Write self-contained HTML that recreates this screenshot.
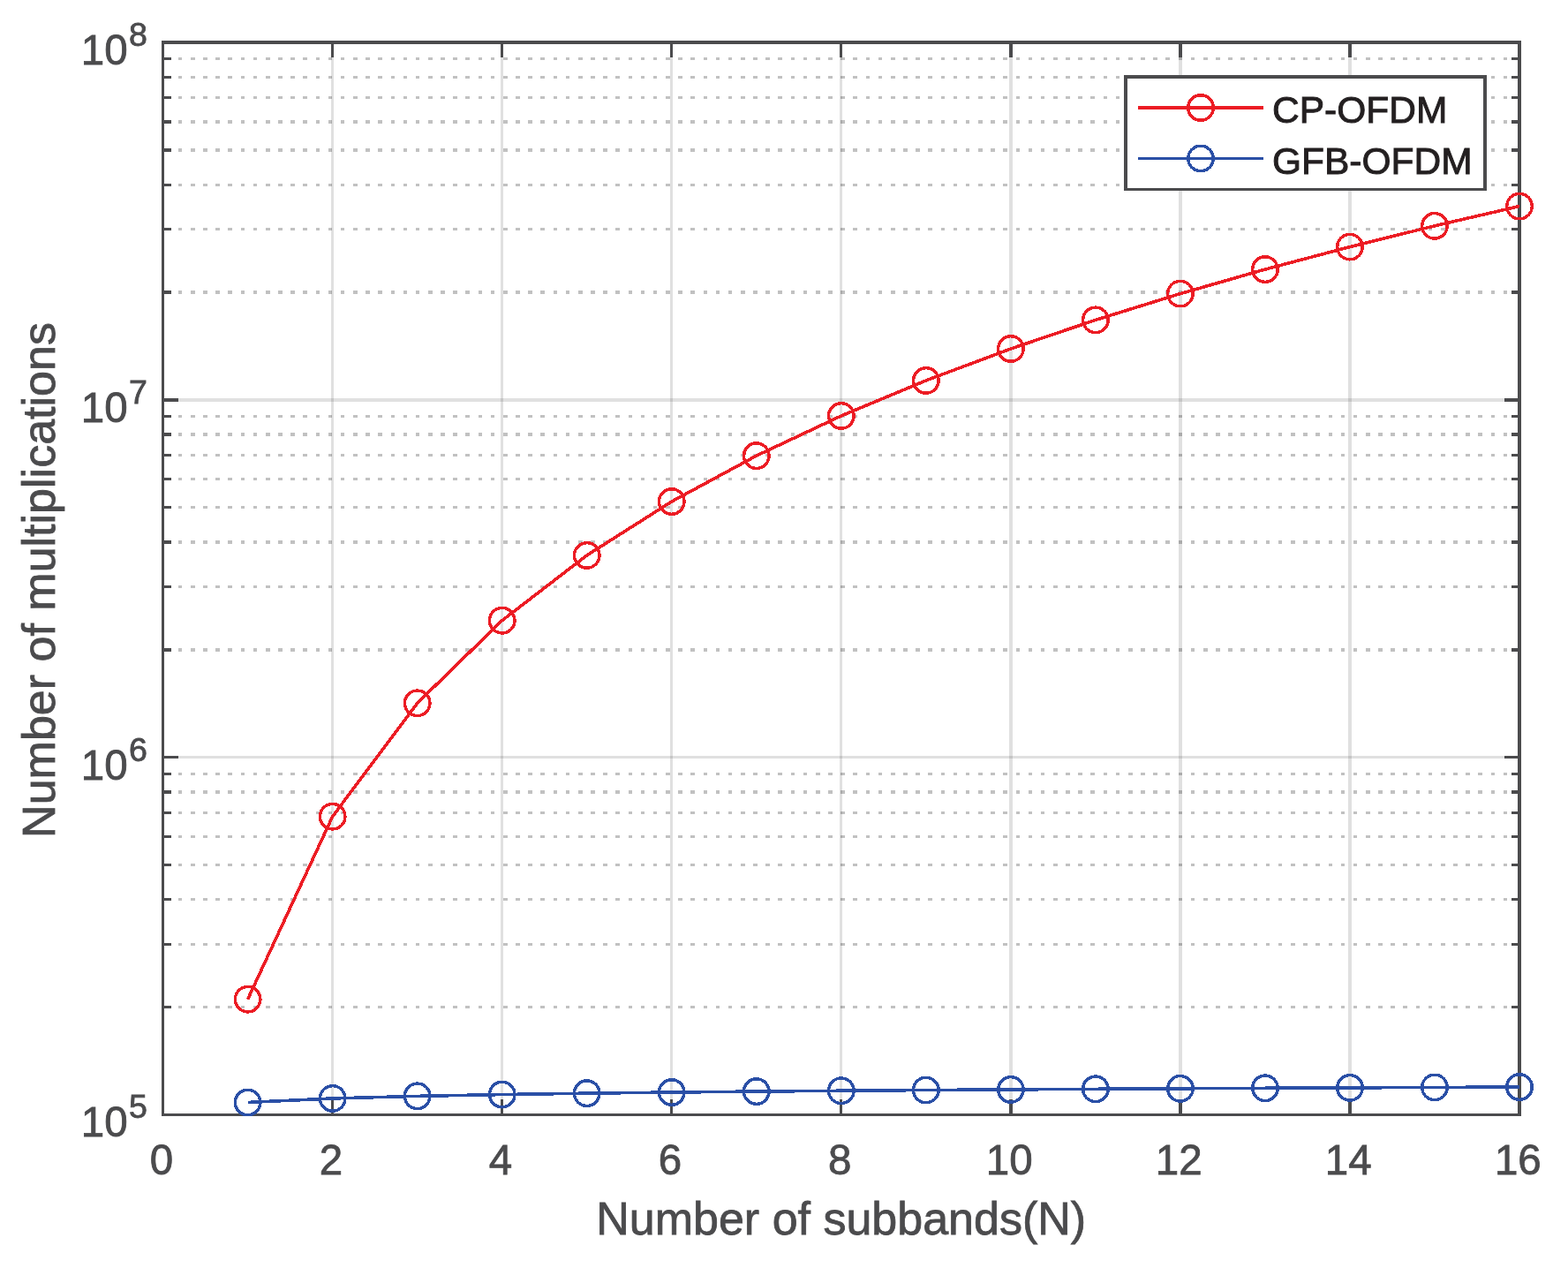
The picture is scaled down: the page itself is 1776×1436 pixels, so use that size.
<!DOCTYPE html>
<html lang="en"><head><meta charset="utf-8"><title>Number of multiplications vs number of subbands</title>
<style>html,body{margin:0;padding:0;background:#fff;}body{width:1776px;height:1436px;overflow:hidden;}svg{display:block;}</style>
</head><body>
<svg width="1776" height="1436" viewBox="0 0 1776 1436" font-family="'Liberation Sans', sans-serif">
<rect x="0" y="0" width="1776" height="1436" fill="#ffffff"/>
<path d="M375 50H378V1261H375ZM567 50H570V1261H567ZM759 50H762V1261H759ZM951 50H954V1261H951ZM1143 50H1147V1261H1143ZM1335 50H1339V1261H1335ZM1527 50H1531V1261H1527Z" fill="#262626" fill-opacity="0.143" shape-rendering="crispEdges"/>
<path d="M186 856H1719V859H186ZM186 451H1719V455H186Z" fill="#262626" fill-opacity="0.143" shape-rendering="crispEdges"/>
<path d="M202 1140.5h4M216 1140.5h5M230 1140.5h5M244 1140.5h5M258 1140.5h5M273 1140.5h4M287 1140.5h4M301 1140.5h5M315 1140.5h5M329 1140.5h5M343 1140.5h5M358 1140.5h4M372 1140.5h4M386 1140.5h4M400 1140.5h5M414 1140.5h5M428 1140.5h5M443 1140.5h4M457 1140.5h4M471 1140.5h4M485 1140.5h5M499 1140.5h5M513 1140.5h5M527 1140.5h5M542 1140.5h4M556 1140.5h4M570 1140.5h5M584 1140.5h5M598 1140.5h5M612 1140.5h5M627 1140.5h4M641 1140.5h4M655 1140.5h5M669 1140.5h5M683 1140.5h5M697 1140.5h5M712 1140.5h4M726 1140.5h4M740 1140.5h4M754 1140.5h5M768 1140.5h5M782 1140.5h5M797 1140.5h4M811 1140.5h4M825 1140.5h4M839 1140.5h5M853 1140.5h5M867 1140.5h5M881 1140.5h5M896 1140.5h4M910 1140.5h4M924 1140.5h5M938 1140.5h5M952 1140.5h5M966 1140.5h5M981 1140.5h4M995 1140.5h4M1009 1140.5h5M1023 1140.5h5M1037 1140.5h5M1051 1140.5h5M1066 1140.5h4M1080 1140.5h4M1094 1140.5h4M1108 1140.5h5M1122 1140.5h5M1136 1140.5h5M1151 1140.5h4M1165 1140.5h4M1179 1140.5h4M1193 1140.5h5M1207 1140.5h5M1221 1140.5h5M1235 1140.5h5M1250 1140.5h4M1264 1140.5h4M1278 1140.5h5M1292 1140.5h5M1306 1140.5h5M1320 1140.5h5M1335 1140.5h4M1349 1140.5h4M1363 1140.5h5M1377 1140.5h5M1391 1140.5h5M1405 1140.5h5M1420 1140.5h4M1434 1140.5h4M1448 1140.5h4M1462 1140.5h5M1476 1140.5h5M1490 1140.5h5M1505 1140.5h4M1519 1140.5h4M1533 1140.5h4M1547 1140.5h5M1561 1140.5h5M1575 1140.5h5M1589 1140.5h5M1604 1140.5h4M1618 1140.5h4M1632 1140.5h5M1646 1140.5h5M1660 1140.5h5M1674 1140.5h5M1689 1140.5h4M1703 1140.5h4M1717 1140.5h2" stroke="#1a1a1a" stroke-opacity="0.27" stroke-width="3" fill="none" shape-rendering="crispEdges"/>
<path d="M202 1069.5h4M216 1069.5h5M230 1069.5h5M244 1069.5h5M258 1069.5h5M273 1069.5h4M287 1069.5h4M301 1069.5h5M315 1069.5h5M329 1069.5h5M343 1069.5h5M358 1069.5h4M372 1069.5h4M386 1069.5h4M400 1069.5h5M414 1069.5h5M428 1069.5h5M443 1069.5h4M457 1069.5h4M471 1069.5h4M485 1069.5h5M499 1069.5h5M513 1069.5h5M527 1069.5h5M542 1069.5h4M556 1069.5h4M570 1069.5h5M584 1069.5h5M598 1069.5h5M612 1069.5h5M627 1069.5h4M641 1069.5h4M655 1069.5h5M669 1069.5h5M683 1069.5h5M697 1069.5h5M712 1069.5h4M726 1069.5h4M740 1069.5h4M754 1069.5h5M768 1069.5h5M782 1069.5h5M797 1069.5h4M811 1069.5h4M825 1069.5h4M839 1069.5h5M853 1069.5h5M867 1069.5h5M881 1069.5h5M896 1069.5h4M910 1069.5h4M924 1069.5h5M938 1069.5h5M952 1069.5h5M966 1069.5h5M981 1069.5h4M995 1069.5h4M1009 1069.5h5M1023 1069.5h5M1037 1069.5h5M1051 1069.5h5M1066 1069.5h4M1080 1069.5h4M1094 1069.5h4M1108 1069.5h5M1122 1069.5h5M1136 1069.5h5M1151 1069.5h4M1165 1069.5h4M1179 1069.5h4M1193 1069.5h5M1207 1069.5h5M1221 1069.5h5M1235 1069.5h5M1250 1069.5h4M1264 1069.5h4M1278 1069.5h5M1292 1069.5h5M1306 1069.5h5M1320 1069.5h5M1335 1069.5h4M1349 1069.5h4M1363 1069.5h5M1377 1069.5h5M1391 1069.5h5M1405 1069.5h5M1420 1069.5h4M1434 1069.5h4M1448 1069.5h4M1462 1069.5h5M1476 1069.5h5M1490 1069.5h5M1505 1069.5h4M1519 1069.5h4M1533 1069.5h4M1547 1069.5h5M1561 1069.5h5M1575 1069.5h5M1589 1069.5h5M1604 1069.5h4M1618 1069.5h4M1632 1069.5h5M1646 1069.5h5M1660 1069.5h5M1674 1069.5h5M1689 1069.5h4M1703 1069.5h4M1717 1069.5h2" stroke="#1a1a1a" stroke-opacity="0.27" stroke-width="3" fill="none" shape-rendering="crispEdges"/>
<path d="M202 1018.5h4M216 1018.5h5M230 1018.5h5M244 1018.5h5M258 1018.5h5M273 1018.5h4M287 1018.5h4M301 1018.5h5M315 1018.5h5M329 1018.5h5M343 1018.5h5M358 1018.5h4M372 1018.5h4M386 1018.5h4M400 1018.5h5M414 1018.5h5M428 1018.5h5M443 1018.5h4M457 1018.5h4M471 1018.5h4M485 1018.5h5M499 1018.5h5M513 1018.5h5M527 1018.5h5M542 1018.5h4M556 1018.5h4M570 1018.5h5M584 1018.5h5M598 1018.5h5M612 1018.5h5M627 1018.5h4M641 1018.5h4M655 1018.5h5M669 1018.5h5M683 1018.5h5M697 1018.5h5M712 1018.5h4M726 1018.5h4M740 1018.5h4M754 1018.5h5M768 1018.5h5M782 1018.5h5M797 1018.5h4M811 1018.5h4M825 1018.5h4M839 1018.5h5M853 1018.5h5M867 1018.5h5M881 1018.5h5M896 1018.5h4M910 1018.5h4M924 1018.5h5M938 1018.5h5M952 1018.5h5M966 1018.5h5M981 1018.5h4M995 1018.5h4M1009 1018.5h5M1023 1018.5h5M1037 1018.5h5M1051 1018.5h5M1066 1018.5h4M1080 1018.5h4M1094 1018.5h4M1108 1018.5h5M1122 1018.5h5M1136 1018.5h5M1151 1018.5h4M1165 1018.5h4M1179 1018.5h4M1193 1018.5h5M1207 1018.5h5M1221 1018.5h5M1235 1018.5h5M1250 1018.5h4M1264 1018.5h4M1278 1018.5h5M1292 1018.5h5M1306 1018.5h5M1320 1018.5h5M1335 1018.5h4M1349 1018.5h4M1363 1018.5h5M1377 1018.5h5M1391 1018.5h5M1405 1018.5h5M1420 1018.5h4M1434 1018.5h4M1448 1018.5h4M1462 1018.5h5M1476 1018.5h5M1490 1018.5h5M1505 1018.5h4M1519 1018.5h4M1533 1018.5h4M1547 1018.5h5M1561 1018.5h5M1575 1018.5h5M1589 1018.5h5M1604 1018.5h4M1618 1018.5h4M1632 1018.5h5M1646 1018.5h5M1660 1018.5h5M1674 1018.5h5M1689 1018.5h4M1703 1018.5h4M1717 1018.5h2" stroke="#1a1a1a" stroke-opacity="0.27" stroke-width="3" fill="none" shape-rendering="crispEdges"/>
<path d="M202 979.5h4M216 979.5h5M230 979.5h5M244 979.5h5M258 979.5h5M273 979.5h4M287 979.5h4M301 979.5h5M315 979.5h5M329 979.5h5M343 979.5h5M358 979.5h4M372 979.5h4M386 979.5h4M400 979.5h5M414 979.5h5M428 979.5h5M443 979.5h4M457 979.5h4M471 979.5h4M485 979.5h5M499 979.5h5M513 979.5h5M527 979.5h5M542 979.5h4M556 979.5h4M570 979.5h5M584 979.5h5M598 979.5h5M612 979.5h5M627 979.5h4M641 979.5h4M655 979.5h5M669 979.5h5M683 979.5h5M697 979.5h5M712 979.5h4M726 979.5h4M740 979.5h4M754 979.5h5M768 979.5h5M782 979.5h5M797 979.5h4M811 979.5h4M825 979.5h4M839 979.5h5M853 979.5h5M867 979.5h5M881 979.5h5M896 979.5h4M910 979.5h4M924 979.5h5M938 979.5h5M952 979.5h5M966 979.5h5M981 979.5h4M995 979.5h4M1009 979.5h5M1023 979.5h5M1037 979.5h5M1051 979.5h5M1066 979.5h4M1080 979.5h4M1094 979.5h4M1108 979.5h5M1122 979.5h5M1136 979.5h5M1151 979.5h4M1165 979.5h4M1179 979.5h4M1193 979.5h5M1207 979.5h5M1221 979.5h5M1235 979.5h5M1250 979.5h4M1264 979.5h4M1278 979.5h5M1292 979.5h5M1306 979.5h5M1320 979.5h5M1335 979.5h4M1349 979.5h4M1363 979.5h5M1377 979.5h5M1391 979.5h5M1405 979.5h5M1420 979.5h4M1434 979.5h4M1448 979.5h4M1462 979.5h5M1476 979.5h5M1490 979.5h5M1505 979.5h4M1519 979.5h4M1533 979.5h4M1547 979.5h5M1561 979.5h5M1575 979.5h5M1589 979.5h5M1604 979.5h4M1618 979.5h4M1632 979.5h5M1646 979.5h5M1660 979.5h5M1674 979.5h5M1689 979.5h4M1703 979.5h4M1717 979.5h2" stroke="#1a1a1a" stroke-opacity="0.27" stroke-width="3" fill="none" shape-rendering="crispEdges"/>
<path d="M202 947.5h4M216 947.5h5M230 947.5h5M244 947.5h5M258 947.5h5M273 947.5h4M287 947.5h4M301 947.5h5M315 947.5h5M329 947.5h5M343 947.5h5M358 947.5h4M372 947.5h4M386 947.5h4M400 947.5h5M414 947.5h5M428 947.5h5M443 947.5h4M457 947.5h4M471 947.5h4M485 947.5h5M499 947.5h5M513 947.5h5M527 947.5h5M542 947.5h4M556 947.5h4M570 947.5h5M584 947.5h5M598 947.5h5M612 947.5h5M627 947.5h4M641 947.5h4M655 947.5h5M669 947.5h5M683 947.5h5M697 947.5h5M712 947.5h4M726 947.5h4M740 947.5h4M754 947.5h5M768 947.5h5M782 947.5h5M797 947.5h4M811 947.5h4M825 947.5h4M839 947.5h5M853 947.5h5M867 947.5h5M881 947.5h5M896 947.5h4M910 947.5h4M924 947.5h5M938 947.5h5M952 947.5h5M966 947.5h5M981 947.5h4M995 947.5h4M1009 947.5h5M1023 947.5h5M1037 947.5h5M1051 947.5h5M1066 947.5h4M1080 947.5h4M1094 947.5h4M1108 947.5h5M1122 947.5h5M1136 947.5h5M1151 947.5h4M1165 947.5h4M1179 947.5h4M1193 947.5h5M1207 947.5h5M1221 947.5h5M1235 947.5h5M1250 947.5h4M1264 947.5h4M1278 947.5h5M1292 947.5h5M1306 947.5h5M1320 947.5h5M1335 947.5h4M1349 947.5h4M1363 947.5h5M1377 947.5h5M1391 947.5h5M1405 947.5h5M1420 947.5h4M1434 947.5h4M1448 947.5h4M1462 947.5h5M1476 947.5h5M1490 947.5h5M1505 947.5h4M1519 947.5h4M1533 947.5h4M1547 947.5h5M1561 947.5h5M1575 947.5h5M1589 947.5h5M1604 947.5h4M1618 947.5h4M1632 947.5h5M1646 947.5h5M1660 947.5h5M1674 947.5h5M1689 947.5h4M1703 947.5h4M1717 947.5h2" stroke="#1a1a1a" stroke-opacity="0.27" stroke-width="3" fill="none" shape-rendering="crispEdges"/>
<path d="M202 920.5h4M216 920.5h5M230 920.5h5M244 920.5h5M258 920.5h5M273 920.5h4M287 920.5h4M301 920.5h5M315 920.5h5M329 920.5h5M343 920.5h5M358 920.5h4M372 920.5h4M386 920.5h4M400 920.5h5M414 920.5h5M428 920.5h5M443 920.5h4M457 920.5h4M471 920.5h4M485 920.5h5M499 920.5h5M513 920.5h5M527 920.5h5M542 920.5h4M556 920.5h4M570 920.5h5M584 920.5h5M598 920.5h5M612 920.5h5M627 920.5h4M641 920.5h4M655 920.5h5M669 920.5h5M683 920.5h5M697 920.5h5M712 920.5h4M726 920.5h4M740 920.5h4M754 920.5h5M768 920.5h5M782 920.5h5M797 920.5h4M811 920.5h4M825 920.5h4M839 920.5h5M853 920.5h5M867 920.5h5M881 920.5h5M896 920.5h4M910 920.5h4M924 920.5h5M938 920.5h5M952 920.5h5M966 920.5h5M981 920.5h4M995 920.5h4M1009 920.5h5M1023 920.5h5M1037 920.5h5M1051 920.5h5M1066 920.5h4M1080 920.5h4M1094 920.5h4M1108 920.5h5M1122 920.5h5M1136 920.5h5M1151 920.5h4M1165 920.5h4M1179 920.5h4M1193 920.5h5M1207 920.5h5M1221 920.5h5M1235 920.5h5M1250 920.5h4M1264 920.5h4M1278 920.5h5M1292 920.5h5M1306 920.5h5M1320 920.5h5M1335 920.5h4M1349 920.5h4M1363 920.5h5M1377 920.5h5M1391 920.5h5M1405 920.5h5M1420 920.5h4M1434 920.5h4M1448 920.5h4M1462 920.5h5M1476 920.5h5M1490 920.5h5M1505 920.5h4M1519 920.5h4M1533 920.5h4M1547 920.5h5M1561 920.5h5M1575 920.5h5M1589 920.5h5M1604 920.5h4M1618 920.5h4M1632 920.5h5M1646 920.5h5M1660 920.5h5M1674 920.5h5M1689 920.5h4M1703 920.5h4M1717 920.5h2" stroke="#1a1a1a" stroke-opacity="0.27" stroke-width="3" fill="none" shape-rendering="crispEdges"/>
<path d="M202 897h4M216 897h5M230 897h5M244 897h5M258 897h5M273 897h4M287 897h4M301 897h5M315 897h5M329 897h5M343 897h5M358 897h4M372 897h4M386 897h4M400 897h5M414 897h5M428 897h5M443 897h4M457 897h4M471 897h4M485 897h5M499 897h5M513 897h5M527 897h5M542 897h4M556 897h4M570 897h5M584 897h5M598 897h5M612 897h5M627 897h4M641 897h4M655 897h5M669 897h5M683 897h5M697 897h5M712 897h4M726 897h4M740 897h4M754 897h5M768 897h5M782 897h5M797 897h4M811 897h4M825 897h4M839 897h5M853 897h5M867 897h5M881 897h5M896 897h4M910 897h4M924 897h5M938 897h5M952 897h5M966 897h5M981 897h4M995 897h4M1009 897h5M1023 897h5M1037 897h5M1051 897h5M1066 897h4M1080 897h4M1094 897h4M1108 897h5M1122 897h5M1136 897h5M1151 897h4M1165 897h4M1179 897h4M1193 897h5M1207 897h5M1221 897h5M1235 897h5M1250 897h4M1264 897h4M1278 897h5M1292 897h5M1306 897h5M1320 897h5M1335 897h4M1349 897h4M1363 897h5M1377 897h5M1391 897h5M1405 897h5M1420 897h4M1434 897h4M1448 897h4M1462 897h5M1476 897h5M1490 897h5M1505 897h4M1519 897h4M1533 897h4M1547 897h5M1561 897h5M1575 897h5M1589 897h5M1604 897h4M1618 897h4M1632 897h5M1646 897h5M1660 897h5M1674 897h5M1689 897h4M1703 897h4M1717 897h2" stroke="#1a1a1a" stroke-opacity="0.27" stroke-width="4" fill="none" shape-rendering="crispEdges"/>
<path d="M202 876.5h4M216 876.5h5M230 876.5h5M244 876.5h5M258 876.5h5M273 876.5h4M287 876.5h4M301 876.5h5M315 876.5h5M329 876.5h5M343 876.5h5M358 876.5h4M372 876.5h4M386 876.5h4M400 876.5h5M414 876.5h5M428 876.5h5M443 876.5h4M457 876.5h4M471 876.5h4M485 876.5h5M499 876.5h5M513 876.5h5M527 876.5h5M542 876.5h4M556 876.5h4M570 876.5h5M584 876.5h5M598 876.5h5M612 876.5h5M627 876.5h4M641 876.5h4M655 876.5h5M669 876.5h5M683 876.5h5M697 876.5h5M712 876.5h4M726 876.5h4M740 876.5h4M754 876.5h5M768 876.5h5M782 876.5h5M797 876.5h4M811 876.5h4M825 876.5h4M839 876.5h5M853 876.5h5M867 876.5h5M881 876.5h5M896 876.5h4M910 876.5h4M924 876.5h5M938 876.5h5M952 876.5h5M966 876.5h5M981 876.5h4M995 876.5h4M1009 876.5h5M1023 876.5h5M1037 876.5h5M1051 876.5h5M1066 876.5h4M1080 876.5h4M1094 876.5h4M1108 876.5h5M1122 876.5h5M1136 876.5h5M1151 876.5h4M1165 876.5h4M1179 876.5h4M1193 876.5h5M1207 876.5h5M1221 876.5h5M1235 876.5h5M1250 876.5h4M1264 876.5h4M1278 876.5h5M1292 876.5h5M1306 876.5h5M1320 876.5h5M1335 876.5h4M1349 876.5h4M1363 876.5h5M1377 876.5h5M1391 876.5h5M1405 876.5h5M1420 876.5h4M1434 876.5h4M1448 876.5h4M1462 876.5h5M1476 876.5h5M1490 876.5h5M1505 876.5h4M1519 876.5h4M1533 876.5h4M1547 876.5h5M1561 876.5h5M1575 876.5h5M1589 876.5h5M1604 876.5h4M1618 876.5h4M1632 876.5h5M1646 876.5h5M1660 876.5h5M1674 876.5h5M1689 876.5h4M1703 876.5h4M1717 876.5h2" stroke="#1a1a1a" stroke-opacity="0.27" stroke-width="3" fill="none" shape-rendering="crispEdges"/>
<path d="M202 736h4M216 736h5M230 736h5M244 736h5M258 736h5M273 736h4M287 736h4M301 736h5M315 736h5M329 736h5M343 736h5M358 736h4M372 736h4M386 736h4M400 736h5M414 736h5M428 736h5M443 736h4M457 736h4M471 736h4M485 736h5M499 736h5M513 736h5M527 736h5M542 736h4M556 736h4M570 736h5M584 736h5M598 736h5M612 736h5M627 736h4M641 736h4M655 736h5M669 736h5M683 736h5M697 736h5M712 736h4M726 736h4M740 736h4M754 736h5M768 736h5M782 736h5M797 736h4M811 736h4M825 736h4M839 736h5M853 736h5M867 736h5M881 736h5M896 736h4M910 736h4M924 736h5M938 736h5M952 736h5M966 736h5M981 736h4M995 736h4M1009 736h5M1023 736h5M1037 736h5M1051 736h5M1066 736h4M1080 736h4M1094 736h4M1108 736h5M1122 736h5M1136 736h5M1151 736h4M1165 736h4M1179 736h4M1193 736h5M1207 736h5M1221 736h5M1235 736h5M1250 736h4M1264 736h4M1278 736h5M1292 736h5M1306 736h5M1320 736h5M1335 736h4M1349 736h4M1363 736h5M1377 736h5M1391 736h5M1405 736h5M1420 736h4M1434 736h4M1448 736h4M1462 736h5M1476 736h5M1490 736h5M1505 736h4M1519 736h4M1533 736h4M1547 736h5M1561 736h5M1575 736h5M1589 736h5M1604 736h4M1618 736h4M1632 736h5M1646 736h5M1660 736h5M1674 736h5M1689 736h4M1703 736h4M1717 736h2" stroke="#1a1a1a" stroke-opacity="0.27" stroke-width="4" fill="none" shape-rendering="crispEdges"/>
<path d="M202 664.5h4M216 664.5h5M230 664.5h5M244 664.5h5M258 664.5h5M273 664.5h4M287 664.5h4M301 664.5h5M315 664.5h5M329 664.5h5M343 664.5h5M358 664.5h4M372 664.5h4M386 664.5h4M400 664.5h5M414 664.5h5M428 664.5h5M443 664.5h4M457 664.5h4M471 664.5h4M485 664.5h5M499 664.5h5M513 664.5h5M527 664.5h5M542 664.5h4M556 664.5h4M570 664.5h5M584 664.5h5M598 664.5h5M612 664.5h5M627 664.5h4M641 664.5h4M655 664.5h5M669 664.5h5M683 664.5h5M697 664.5h5M712 664.5h4M726 664.5h4M740 664.5h4M754 664.5h5M768 664.5h5M782 664.5h5M797 664.5h4M811 664.5h4M825 664.5h4M839 664.5h5M853 664.5h5M867 664.5h5M881 664.5h5M896 664.5h4M910 664.5h4M924 664.5h5M938 664.5h5M952 664.5h5M966 664.5h5M981 664.5h4M995 664.5h4M1009 664.5h5M1023 664.5h5M1037 664.5h5M1051 664.5h5M1066 664.5h4M1080 664.5h4M1094 664.5h4M1108 664.5h5M1122 664.5h5M1136 664.5h5M1151 664.5h4M1165 664.5h4M1179 664.5h4M1193 664.5h5M1207 664.5h5M1221 664.5h5M1235 664.5h5M1250 664.5h4M1264 664.5h4M1278 664.5h5M1292 664.5h5M1306 664.5h5M1320 664.5h5M1335 664.5h4M1349 664.5h4M1363 664.5h5M1377 664.5h5M1391 664.5h5M1405 664.5h5M1420 664.5h4M1434 664.5h4M1448 664.5h4M1462 664.5h5M1476 664.5h5M1490 664.5h5M1505 664.5h4M1519 664.5h4M1533 664.5h4M1547 664.5h5M1561 664.5h5M1575 664.5h5M1589 664.5h5M1604 664.5h4M1618 664.5h4M1632 664.5h5M1646 664.5h5M1660 664.5h5M1674 664.5h5M1689 664.5h4M1703 664.5h4M1717 664.5h2" stroke="#1a1a1a" stroke-opacity="0.27" stroke-width="3" fill="none" shape-rendering="crispEdges"/>
<path d="M202 614h4M216 614h5M230 614h5M244 614h5M258 614h5M273 614h4M287 614h4M301 614h5M315 614h5M329 614h5M343 614h5M358 614h4M372 614h4M386 614h4M400 614h5M414 614h5M428 614h5M443 614h4M457 614h4M471 614h4M485 614h5M499 614h5M513 614h5M527 614h5M542 614h4M556 614h4M570 614h5M584 614h5M598 614h5M612 614h5M627 614h4M641 614h4M655 614h5M669 614h5M683 614h5M697 614h5M712 614h4M726 614h4M740 614h4M754 614h5M768 614h5M782 614h5M797 614h4M811 614h4M825 614h4M839 614h5M853 614h5M867 614h5M881 614h5M896 614h4M910 614h4M924 614h5M938 614h5M952 614h5M966 614h5M981 614h4M995 614h4M1009 614h5M1023 614h5M1037 614h5M1051 614h5M1066 614h4M1080 614h4M1094 614h4M1108 614h5M1122 614h5M1136 614h5M1151 614h4M1165 614h4M1179 614h4M1193 614h5M1207 614h5M1221 614h5M1235 614h5M1250 614h4M1264 614h4M1278 614h5M1292 614h5M1306 614h5M1320 614h5M1335 614h4M1349 614h4M1363 614h5M1377 614h5M1391 614h5M1405 614h5M1420 614h4M1434 614h4M1448 614h4M1462 614h5M1476 614h5M1490 614h5M1505 614h4M1519 614h4M1533 614h4M1547 614h5M1561 614h5M1575 614h5M1589 614h5M1604 614h4M1618 614h4M1632 614h5M1646 614h5M1660 614h5M1674 614h5M1689 614h4M1703 614h4M1717 614h2" stroke="#1a1a1a" stroke-opacity="0.27" stroke-width="4" fill="none" shape-rendering="crispEdges"/>
<path d="M202 574.5h4M216 574.5h5M230 574.5h5M244 574.5h5M258 574.5h5M273 574.5h4M287 574.5h4M301 574.5h5M315 574.5h5M329 574.5h5M343 574.5h5M358 574.5h4M372 574.5h4M386 574.5h4M400 574.5h5M414 574.5h5M428 574.5h5M443 574.5h4M457 574.5h4M471 574.5h4M485 574.5h5M499 574.5h5M513 574.5h5M527 574.5h5M542 574.5h4M556 574.5h4M570 574.5h5M584 574.5h5M598 574.5h5M612 574.5h5M627 574.5h4M641 574.5h4M655 574.5h5M669 574.5h5M683 574.5h5M697 574.5h5M712 574.5h4M726 574.5h4M740 574.5h4M754 574.5h5M768 574.5h5M782 574.5h5M797 574.5h4M811 574.5h4M825 574.5h4M839 574.5h5M853 574.5h5M867 574.5h5M881 574.5h5M896 574.5h4M910 574.5h4M924 574.5h5M938 574.5h5M952 574.5h5M966 574.5h5M981 574.5h4M995 574.5h4M1009 574.5h5M1023 574.5h5M1037 574.5h5M1051 574.5h5M1066 574.5h4M1080 574.5h4M1094 574.5h4M1108 574.5h5M1122 574.5h5M1136 574.5h5M1151 574.5h4M1165 574.5h4M1179 574.5h4M1193 574.5h5M1207 574.5h5M1221 574.5h5M1235 574.5h5M1250 574.5h4M1264 574.5h4M1278 574.5h5M1292 574.5h5M1306 574.5h5M1320 574.5h5M1335 574.5h4M1349 574.5h4M1363 574.5h5M1377 574.5h5M1391 574.5h5M1405 574.5h5M1420 574.5h4M1434 574.5h4M1448 574.5h4M1462 574.5h5M1476 574.5h5M1490 574.5h5M1505 574.5h4M1519 574.5h4M1533 574.5h4M1547 574.5h5M1561 574.5h5M1575 574.5h5M1589 574.5h5M1604 574.5h4M1618 574.5h4M1632 574.5h5M1646 574.5h5M1660 574.5h5M1674 574.5h5M1689 574.5h4M1703 574.5h4M1717 574.5h2" stroke="#1a1a1a" stroke-opacity="0.27" stroke-width="3" fill="none" shape-rendering="crispEdges"/>
<path d="M202 542.5h4M216 542.5h5M230 542.5h5M244 542.5h5M258 542.5h5M273 542.5h4M287 542.5h4M301 542.5h5M315 542.5h5M329 542.5h5M343 542.5h5M358 542.5h4M372 542.5h4M386 542.5h4M400 542.5h5M414 542.5h5M428 542.5h5M443 542.5h4M457 542.5h4M471 542.5h4M485 542.5h5M499 542.5h5M513 542.5h5M527 542.5h5M542 542.5h4M556 542.5h4M570 542.5h5M584 542.5h5M598 542.5h5M612 542.5h5M627 542.5h4M641 542.5h4M655 542.5h5M669 542.5h5M683 542.5h5M697 542.5h5M712 542.5h4M726 542.5h4M740 542.5h4M754 542.5h5M768 542.5h5M782 542.5h5M797 542.5h4M811 542.5h4M825 542.5h4M839 542.5h5M853 542.5h5M867 542.5h5M881 542.5h5M896 542.5h4M910 542.5h4M924 542.5h5M938 542.5h5M952 542.5h5M966 542.5h5M981 542.5h4M995 542.5h4M1009 542.5h5M1023 542.5h5M1037 542.5h5M1051 542.5h5M1066 542.5h4M1080 542.5h4M1094 542.5h4M1108 542.5h5M1122 542.5h5M1136 542.5h5M1151 542.5h4M1165 542.5h4M1179 542.5h4M1193 542.5h5M1207 542.5h5M1221 542.5h5M1235 542.5h5M1250 542.5h4M1264 542.5h4M1278 542.5h5M1292 542.5h5M1306 542.5h5M1320 542.5h5M1335 542.5h4M1349 542.5h4M1363 542.5h5M1377 542.5h5M1391 542.5h5M1405 542.5h5M1420 542.5h4M1434 542.5h4M1448 542.5h4M1462 542.5h5M1476 542.5h5M1490 542.5h5M1505 542.5h4M1519 542.5h4M1533 542.5h4M1547 542.5h5M1561 542.5h5M1575 542.5h5M1589 542.5h5M1604 542.5h4M1618 542.5h4M1632 542.5h5M1646 542.5h5M1660 542.5h5M1674 542.5h5M1689 542.5h4M1703 542.5h4M1717 542.5h2" stroke="#1a1a1a" stroke-opacity="0.27" stroke-width="3" fill="none" shape-rendering="crispEdges"/>
<path d="M202 515.5h4M216 515.5h5M230 515.5h5M244 515.5h5M258 515.5h5M273 515.5h4M287 515.5h4M301 515.5h5M315 515.5h5M329 515.5h5M343 515.5h5M358 515.5h4M372 515.5h4M386 515.5h4M400 515.5h5M414 515.5h5M428 515.5h5M443 515.5h4M457 515.5h4M471 515.5h4M485 515.5h5M499 515.5h5M513 515.5h5M527 515.5h5M542 515.5h4M556 515.5h4M570 515.5h5M584 515.5h5M598 515.5h5M612 515.5h5M627 515.5h4M641 515.5h4M655 515.5h5M669 515.5h5M683 515.5h5M697 515.5h5M712 515.5h4M726 515.5h4M740 515.5h4M754 515.5h5M768 515.5h5M782 515.5h5M797 515.5h4M811 515.5h4M825 515.5h4M839 515.5h5M853 515.5h5M867 515.5h5M881 515.5h5M896 515.5h4M910 515.5h4M924 515.5h5M938 515.5h5M952 515.5h5M966 515.5h5M981 515.5h4M995 515.5h4M1009 515.5h5M1023 515.5h5M1037 515.5h5M1051 515.5h5M1066 515.5h4M1080 515.5h4M1094 515.5h4M1108 515.5h5M1122 515.5h5M1136 515.5h5M1151 515.5h4M1165 515.5h4M1179 515.5h4M1193 515.5h5M1207 515.5h5M1221 515.5h5M1235 515.5h5M1250 515.5h4M1264 515.5h4M1278 515.5h5M1292 515.5h5M1306 515.5h5M1320 515.5h5M1335 515.5h4M1349 515.5h4M1363 515.5h5M1377 515.5h5M1391 515.5h5M1405 515.5h5M1420 515.5h4M1434 515.5h4M1448 515.5h4M1462 515.5h5M1476 515.5h5M1490 515.5h5M1505 515.5h4M1519 515.5h4M1533 515.5h4M1547 515.5h5M1561 515.5h5M1575 515.5h5M1589 515.5h5M1604 515.5h4M1618 515.5h4M1632 515.5h5M1646 515.5h5M1660 515.5h5M1674 515.5h5M1689 515.5h4M1703 515.5h4M1717 515.5h2" stroke="#1a1a1a" stroke-opacity="0.27" stroke-width="3" fill="none" shape-rendering="crispEdges"/>
<path d="M202 492h4M216 492h5M230 492h5M244 492h5M258 492h5M273 492h4M287 492h4M301 492h5M315 492h5M329 492h5M343 492h5M358 492h4M372 492h4M386 492h4M400 492h5M414 492h5M428 492h5M443 492h4M457 492h4M471 492h4M485 492h5M499 492h5M513 492h5M527 492h5M542 492h4M556 492h4M570 492h5M584 492h5M598 492h5M612 492h5M627 492h4M641 492h4M655 492h5M669 492h5M683 492h5M697 492h5M712 492h4M726 492h4M740 492h4M754 492h5M768 492h5M782 492h5M797 492h4M811 492h4M825 492h4M839 492h5M853 492h5M867 492h5M881 492h5M896 492h4M910 492h4M924 492h5M938 492h5M952 492h5M966 492h5M981 492h4M995 492h4M1009 492h5M1023 492h5M1037 492h5M1051 492h5M1066 492h4M1080 492h4M1094 492h4M1108 492h5M1122 492h5M1136 492h5M1151 492h4M1165 492h4M1179 492h4M1193 492h5M1207 492h5M1221 492h5M1235 492h5M1250 492h4M1264 492h4M1278 492h5M1292 492h5M1306 492h5M1320 492h5M1335 492h4M1349 492h4M1363 492h5M1377 492h5M1391 492h5M1405 492h5M1420 492h4M1434 492h4M1448 492h4M1462 492h5M1476 492h5M1490 492h5M1505 492h4M1519 492h4M1533 492h4M1547 492h5M1561 492h5M1575 492h5M1589 492h5M1604 492h4M1618 492h4M1632 492h5M1646 492h5M1660 492h5M1674 492h5M1689 492h4M1703 492h4M1717 492h2" stroke="#1a1a1a" stroke-opacity="0.27" stroke-width="4" fill="none" shape-rendering="crispEdges"/>
<path d="M202 471.5h4M216 471.5h5M230 471.5h5M244 471.5h5M258 471.5h5M273 471.5h4M287 471.5h4M301 471.5h5M315 471.5h5M329 471.5h5M343 471.5h5M358 471.5h4M372 471.5h4M386 471.5h4M400 471.5h5M414 471.5h5M428 471.5h5M443 471.5h4M457 471.5h4M471 471.5h4M485 471.5h5M499 471.5h5M513 471.5h5M527 471.5h5M542 471.5h4M556 471.5h4M570 471.5h5M584 471.5h5M598 471.5h5M612 471.5h5M627 471.5h4M641 471.5h4M655 471.5h5M669 471.5h5M683 471.5h5M697 471.5h5M712 471.5h4M726 471.5h4M740 471.5h4M754 471.5h5M768 471.5h5M782 471.5h5M797 471.5h4M811 471.5h4M825 471.5h4M839 471.5h5M853 471.5h5M867 471.5h5M881 471.5h5M896 471.5h4M910 471.5h4M924 471.5h5M938 471.5h5M952 471.5h5M966 471.5h5M981 471.5h4M995 471.5h4M1009 471.5h5M1023 471.5h5M1037 471.5h5M1051 471.5h5M1066 471.5h4M1080 471.5h4M1094 471.5h4M1108 471.5h5M1122 471.5h5M1136 471.5h5M1151 471.5h4M1165 471.5h4M1179 471.5h4M1193 471.5h5M1207 471.5h5M1221 471.5h5M1235 471.5h5M1250 471.5h4M1264 471.5h4M1278 471.5h5M1292 471.5h5M1306 471.5h5M1320 471.5h5M1335 471.5h4M1349 471.5h4M1363 471.5h5M1377 471.5h5M1391 471.5h5M1405 471.5h5M1420 471.5h4M1434 471.5h4M1448 471.5h4M1462 471.5h5M1476 471.5h5M1490 471.5h5M1505 471.5h4M1519 471.5h4M1533 471.5h4M1547 471.5h5M1561 471.5h5M1575 471.5h5M1589 471.5h5M1604 471.5h4M1618 471.5h4M1632 471.5h5M1646 471.5h5M1660 471.5h5M1674 471.5h5M1689 471.5h4M1703 471.5h4M1717 471.5h2" stroke="#1a1a1a" stroke-opacity="0.27" stroke-width="3" fill="none" shape-rendering="crispEdges"/>
<path d="M202 331h4M216 331h5M230 331h5M244 331h5M258 331h5M273 331h4M287 331h4M301 331h5M315 331h5M329 331h5M343 331h5M358 331h4M372 331h4M386 331h4M400 331h5M414 331h5M428 331h5M443 331h4M457 331h4M471 331h4M485 331h5M499 331h5M513 331h5M527 331h5M542 331h4M556 331h4M570 331h5M584 331h5M598 331h5M612 331h5M627 331h4M641 331h4M655 331h5M669 331h5M683 331h5M697 331h5M712 331h4M726 331h4M740 331h4M754 331h5M768 331h5M782 331h5M797 331h4M811 331h4M825 331h4M839 331h5M853 331h5M867 331h5M881 331h5M896 331h4M910 331h4M924 331h5M938 331h5M952 331h5M966 331h5M981 331h4M995 331h4M1009 331h5M1023 331h5M1037 331h5M1051 331h5M1066 331h4M1080 331h4M1094 331h4M1108 331h5M1122 331h5M1136 331h5M1151 331h4M1165 331h4M1179 331h4M1193 331h5M1207 331h5M1221 331h5M1235 331h5M1250 331h4M1264 331h4M1278 331h5M1292 331h5M1306 331h5M1320 331h5M1335 331h4M1349 331h4M1363 331h5M1377 331h5M1391 331h5M1405 331h5M1420 331h4M1434 331h4M1448 331h4M1462 331h5M1476 331h5M1490 331h5M1505 331h4M1519 331h4M1533 331h4M1547 331h5M1561 331h5M1575 331h5M1589 331h5M1604 331h4M1618 331h4M1632 331h5M1646 331h5M1660 331h5M1674 331h5M1689 331h4M1703 331h4M1717 331h2" stroke="#1a1a1a" stroke-opacity="0.27" stroke-width="4" fill="none" shape-rendering="crispEdges"/>
<path d="M202 259.5h4M216 259.5h5M230 259.5h5M244 259.5h5M258 259.5h5M273 259.5h4M287 259.5h4M301 259.5h5M315 259.5h5M329 259.5h5M343 259.5h5M358 259.5h4M372 259.5h4M386 259.5h4M400 259.5h5M414 259.5h5M428 259.5h5M443 259.5h4M457 259.5h4M471 259.5h4M485 259.5h5M499 259.5h5M513 259.5h5M527 259.5h5M542 259.5h4M556 259.5h4M570 259.5h5M584 259.5h5M598 259.5h5M612 259.5h5M627 259.5h4M641 259.5h4M655 259.5h5M669 259.5h5M683 259.5h5M697 259.5h5M712 259.5h4M726 259.5h4M740 259.5h4M754 259.5h5M768 259.5h5M782 259.5h5M797 259.5h4M811 259.5h4M825 259.5h4M839 259.5h5M853 259.5h5M867 259.5h5M881 259.5h5M896 259.5h4M910 259.5h4M924 259.5h5M938 259.5h5M952 259.5h5M966 259.5h5M981 259.5h4M995 259.5h4M1009 259.5h5M1023 259.5h5M1037 259.5h5M1051 259.5h5M1066 259.5h4M1080 259.5h4M1094 259.5h4M1108 259.5h5M1122 259.5h5M1136 259.5h5M1151 259.5h4M1165 259.5h4M1179 259.5h4M1193 259.5h5M1207 259.5h5M1221 259.5h5M1235 259.5h5M1250 259.5h4M1264 259.5h4M1278 259.5h5M1292 259.5h5M1306 259.5h5M1320 259.5h5M1335 259.5h4M1349 259.5h4M1363 259.5h5M1377 259.5h5M1391 259.5h5M1405 259.5h5M1420 259.5h4M1434 259.5h4M1448 259.5h4M1462 259.5h5M1476 259.5h5M1490 259.5h5M1505 259.5h4M1519 259.5h4M1533 259.5h4M1547 259.5h5M1561 259.5h5M1575 259.5h5M1589 259.5h5M1604 259.5h4M1618 259.5h4M1632 259.5h5M1646 259.5h5M1660 259.5h5M1674 259.5h5M1689 259.5h4M1703 259.5h4M1717 259.5h2" stroke="#1a1a1a" stroke-opacity="0.27" stroke-width="3" fill="none" shape-rendering="crispEdges"/>
<path d="M202 209.5h4M216 209.5h5M230 209.5h5M244 209.5h5M258 209.5h5M273 209.5h4M287 209.5h4M301 209.5h5M315 209.5h5M329 209.5h5M343 209.5h5M358 209.5h4M372 209.5h4M386 209.5h4M400 209.5h5M414 209.5h5M428 209.5h5M443 209.5h4M457 209.5h4M471 209.5h4M485 209.5h5M499 209.5h5M513 209.5h5M527 209.5h5M542 209.5h4M556 209.5h4M570 209.5h5M584 209.5h5M598 209.5h5M612 209.5h5M627 209.5h4M641 209.5h4M655 209.5h5M669 209.5h5M683 209.5h5M697 209.5h5M712 209.5h4M726 209.5h4M740 209.5h4M754 209.5h5M768 209.5h5M782 209.5h5M797 209.5h4M811 209.5h4M825 209.5h4M839 209.5h5M853 209.5h5M867 209.5h5M881 209.5h5M896 209.5h4M910 209.5h4M924 209.5h5M938 209.5h5M952 209.5h5M966 209.5h5M981 209.5h4M995 209.5h4M1009 209.5h5M1023 209.5h5M1037 209.5h5M1051 209.5h5M1066 209.5h4M1080 209.5h4M1094 209.5h4M1108 209.5h5M1122 209.5h5M1136 209.5h5M1151 209.5h4M1165 209.5h4M1179 209.5h4M1193 209.5h5M1207 209.5h5M1221 209.5h5M1235 209.5h5M1250 209.5h4M1264 209.5h4M1278 209.5h5M1292 209.5h5M1306 209.5h5M1320 209.5h5M1335 209.5h4M1349 209.5h4M1363 209.5h5M1377 209.5h5M1391 209.5h5M1405 209.5h5M1420 209.5h4M1434 209.5h4M1448 209.5h4M1462 209.5h5M1476 209.5h5M1490 209.5h5M1505 209.5h4M1519 209.5h4M1533 209.5h4M1547 209.5h5M1561 209.5h5M1575 209.5h5M1589 209.5h5M1604 209.5h4M1618 209.5h4M1632 209.5h5M1646 209.5h5M1660 209.5h5M1674 209.5h5M1689 209.5h4M1703 209.5h4M1717 209.5h2" stroke="#1a1a1a" stroke-opacity="0.27" stroke-width="3" fill="none" shape-rendering="crispEdges"/>
<path d="M202 170h4M216 170h5M230 170h5M244 170h5M258 170h5M273 170h4M287 170h4M301 170h5M315 170h5M329 170h5M343 170h5M358 170h4M372 170h4M386 170h4M400 170h5M414 170h5M428 170h5M443 170h4M457 170h4M471 170h4M485 170h5M499 170h5M513 170h5M527 170h5M542 170h4M556 170h4M570 170h5M584 170h5M598 170h5M612 170h5M627 170h4M641 170h4M655 170h5M669 170h5M683 170h5M697 170h5M712 170h4M726 170h4M740 170h4M754 170h5M768 170h5M782 170h5M797 170h4M811 170h4M825 170h4M839 170h5M853 170h5M867 170h5M881 170h5M896 170h4M910 170h4M924 170h5M938 170h5M952 170h5M966 170h5M981 170h4M995 170h4M1009 170h5M1023 170h5M1037 170h5M1051 170h5M1066 170h4M1080 170h4M1094 170h4M1108 170h5M1122 170h5M1136 170h5M1151 170h4M1165 170h4M1179 170h4M1193 170h5M1207 170h5M1221 170h5M1235 170h5M1250 170h4M1264 170h4M1278 170h5M1292 170h5M1306 170h5M1320 170h5M1335 170h4M1349 170h4M1363 170h5M1377 170h5M1391 170h5M1405 170h5M1420 170h4M1434 170h4M1448 170h4M1462 170h5M1476 170h5M1490 170h5M1505 170h4M1519 170h4M1533 170h4M1547 170h5M1561 170h5M1575 170h5M1589 170h5M1604 170h4M1618 170h4M1632 170h5M1646 170h5M1660 170h5M1674 170h5M1689 170h4M1703 170h4M1717 170h2" stroke="#1a1a1a" stroke-opacity="0.27" stroke-width="4" fill="none" shape-rendering="crispEdges"/>
<path d="M202 138h4M216 138h5M230 138h5M244 138h5M258 138h5M273 138h4M287 138h4M301 138h5M315 138h5M329 138h5M343 138h5M358 138h4M372 138h4M386 138h4M400 138h5M414 138h5M428 138h5M443 138h4M457 138h4M471 138h4M485 138h5M499 138h5M513 138h5M527 138h5M542 138h4M556 138h4M570 138h5M584 138h5M598 138h5M612 138h5M627 138h4M641 138h4M655 138h5M669 138h5M683 138h5M697 138h5M712 138h4M726 138h4M740 138h4M754 138h5M768 138h5M782 138h5M797 138h4M811 138h4M825 138h4M839 138h5M853 138h5M867 138h5M881 138h5M896 138h4M910 138h4M924 138h5M938 138h5M952 138h5M966 138h5M981 138h4M995 138h4M1009 138h5M1023 138h5M1037 138h5M1051 138h5M1066 138h4M1080 138h4M1094 138h4M1108 138h5M1122 138h5M1136 138h5M1151 138h4M1165 138h4M1179 138h4M1193 138h5M1207 138h5M1221 138h5M1235 138h5M1250 138h4M1264 138h4M1278 138h5M1292 138h5M1306 138h5M1320 138h5M1335 138h4M1349 138h4M1363 138h5M1377 138h5M1391 138h5M1405 138h5M1420 138h4M1434 138h4M1448 138h4M1462 138h5M1476 138h5M1490 138h5M1505 138h4M1519 138h4M1533 138h4M1547 138h5M1561 138h5M1575 138h5M1589 138h5M1604 138h4M1618 138h4M1632 138h5M1646 138h5M1660 138h5M1674 138h5M1689 138h4M1703 138h4M1717 138h2" stroke="#1a1a1a" stroke-opacity="0.27" stroke-width="4" fill="none" shape-rendering="crispEdges"/>
<path d="M202 110.5h4M216 110.5h5M230 110.5h5M244 110.5h5M258 110.5h5M273 110.5h4M287 110.5h4M301 110.5h5M315 110.5h5M329 110.5h5M343 110.5h5M358 110.5h4M372 110.5h4M386 110.5h4M400 110.5h5M414 110.5h5M428 110.5h5M443 110.5h4M457 110.5h4M471 110.5h4M485 110.5h5M499 110.5h5M513 110.5h5M527 110.5h5M542 110.5h4M556 110.5h4M570 110.5h5M584 110.5h5M598 110.5h5M612 110.5h5M627 110.5h4M641 110.5h4M655 110.5h5M669 110.5h5M683 110.5h5M697 110.5h5M712 110.5h4M726 110.5h4M740 110.5h4M754 110.5h5M768 110.5h5M782 110.5h5M797 110.5h4M811 110.5h4M825 110.5h4M839 110.5h5M853 110.5h5M867 110.5h5M881 110.5h5M896 110.5h4M910 110.5h4M924 110.5h5M938 110.5h5M952 110.5h5M966 110.5h5M981 110.5h4M995 110.5h4M1009 110.5h5M1023 110.5h5M1037 110.5h5M1051 110.5h5M1066 110.5h4M1080 110.5h4M1094 110.5h4M1108 110.5h5M1122 110.5h5M1136 110.5h5M1151 110.5h4M1165 110.5h4M1179 110.5h4M1193 110.5h5M1207 110.5h5M1221 110.5h5M1235 110.5h5M1250 110.5h4M1264 110.5h4M1278 110.5h5M1292 110.5h5M1306 110.5h5M1320 110.5h5M1335 110.5h4M1349 110.5h4M1363 110.5h5M1377 110.5h5M1391 110.5h5M1405 110.5h5M1420 110.5h4M1434 110.5h4M1448 110.5h4M1462 110.5h5M1476 110.5h5M1490 110.5h5M1505 110.5h4M1519 110.5h4M1533 110.5h4M1547 110.5h5M1561 110.5h5M1575 110.5h5M1589 110.5h5M1604 110.5h4M1618 110.5h4M1632 110.5h5M1646 110.5h5M1660 110.5h5M1674 110.5h5M1689 110.5h4M1703 110.5h4M1717 110.5h2" stroke="#1a1a1a" stroke-opacity="0.27" stroke-width="3" fill="none" shape-rendering="crispEdges"/>
<path d="M202 87.5h4M216 87.5h5M230 87.5h5M244 87.5h5M258 87.5h5M273 87.5h4M287 87.5h4M301 87.5h5M315 87.5h5M329 87.5h5M343 87.5h5M358 87.5h4M372 87.5h4M386 87.5h4M400 87.5h5M414 87.5h5M428 87.5h5M443 87.5h4M457 87.5h4M471 87.5h4M485 87.5h5M499 87.5h5M513 87.5h5M527 87.5h5M542 87.5h4M556 87.5h4M570 87.5h5M584 87.5h5M598 87.5h5M612 87.5h5M627 87.5h4M641 87.5h4M655 87.5h5M669 87.5h5M683 87.5h5M697 87.5h5M712 87.5h4M726 87.5h4M740 87.5h4M754 87.5h5M768 87.5h5M782 87.5h5M797 87.5h4M811 87.5h4M825 87.5h4M839 87.5h5M853 87.5h5M867 87.5h5M881 87.5h5M896 87.5h4M910 87.5h4M924 87.5h5M938 87.5h5M952 87.5h5M966 87.5h5M981 87.5h4M995 87.5h4M1009 87.5h5M1023 87.5h5M1037 87.5h5M1051 87.5h5M1066 87.5h4M1080 87.5h4M1094 87.5h4M1108 87.5h5M1122 87.5h5M1136 87.5h5M1151 87.5h4M1165 87.5h4M1179 87.5h4M1193 87.5h5M1207 87.5h5M1221 87.5h5M1235 87.5h5M1250 87.5h4M1264 87.5h4M1278 87.5h5M1292 87.5h5M1306 87.5h5M1320 87.5h5M1335 87.5h4M1349 87.5h4M1363 87.5h5M1377 87.5h5M1391 87.5h5M1405 87.5h5M1420 87.5h4M1434 87.5h4M1448 87.5h4M1462 87.5h5M1476 87.5h5M1490 87.5h5M1505 87.5h4M1519 87.5h4M1533 87.5h4M1547 87.5h5M1561 87.5h5M1575 87.5h5M1589 87.5h5M1604 87.5h4M1618 87.5h4M1632 87.5h5M1646 87.5h5M1660 87.5h5M1674 87.5h5M1689 87.5h4M1703 87.5h4M1717 87.5h2" stroke="#1a1a1a" stroke-opacity="0.27" stroke-width="3" fill="none" shape-rendering="crispEdges"/>
<path d="M202 66.5h4M216 66.5h5M230 66.5h5M244 66.5h5M258 66.5h5M273 66.5h4M287 66.5h4M301 66.5h5M315 66.5h5M329 66.5h5M343 66.5h5M358 66.5h4M372 66.5h4M386 66.5h4M400 66.5h5M414 66.5h5M428 66.5h5M443 66.5h4M457 66.5h4M471 66.5h4M485 66.5h5M499 66.5h5M513 66.5h5M527 66.5h5M542 66.5h4M556 66.5h4M570 66.5h5M584 66.5h5M598 66.5h5M612 66.5h5M627 66.5h4M641 66.5h4M655 66.5h5M669 66.5h5M683 66.5h5M697 66.5h5M712 66.5h4M726 66.5h4M740 66.5h4M754 66.5h5M768 66.5h5M782 66.5h5M797 66.5h4M811 66.5h4M825 66.5h4M839 66.5h5M853 66.5h5M867 66.5h5M881 66.5h5M896 66.5h4M910 66.5h4M924 66.5h5M938 66.5h5M952 66.5h5M966 66.5h5M981 66.5h4M995 66.5h4M1009 66.5h5M1023 66.5h5M1037 66.5h5M1051 66.5h5M1066 66.5h4M1080 66.5h4M1094 66.5h4M1108 66.5h5M1122 66.5h5M1136 66.5h5M1151 66.5h4M1165 66.5h4M1179 66.5h4M1193 66.5h5M1207 66.5h5M1221 66.5h5M1235 66.5h5M1250 66.5h4M1264 66.5h4M1278 66.5h5M1292 66.5h5M1306 66.5h5M1320 66.5h5M1335 66.5h4M1349 66.5h4M1363 66.5h5M1377 66.5h5M1391 66.5h5M1405 66.5h5M1420 66.5h4M1434 66.5h4M1448 66.5h4M1462 66.5h5M1476 66.5h5M1490 66.5h5M1505 66.5h4M1519 66.5h4M1533 66.5h4M1547 66.5h5M1561 66.5h5M1575 66.5h5M1589 66.5h5M1604 66.5h4M1618 66.5h4M1632 66.5h5M1646 66.5h5M1660 66.5h5M1674 66.5h5M1689 66.5h4M1703 66.5h4M1717 66.5h2" stroke="#1a1a1a" stroke-opacity="0.27" stroke-width="3" fill="none" shape-rendering="crispEdges"/>
<path d="M375 1245H378V1264H375ZM375 46H378V65H375ZM567 1245H570V1264H567ZM567 46H570V65H567ZM759 1245H762V1264H759ZM759 46H762V65H759ZM951 1245H954V1264H951ZM951 46H954V65H951ZM1143 1245H1147V1264H1143ZM1143 46H1147V65H1143ZM1335 1245H1339V1264H1335ZM1335 46H1339V65H1335ZM1527 1245H1531V1264H1527ZM1527 46H1531V65H1527ZM183 856H202V859H183ZM1704 856H1723V859H1704ZM183 451H202V455H183ZM1704 451H1723V455H1704ZM183 1139H194V1142H183ZM1712 1139H1723V1142H1712ZM183 1068H194V1071H183ZM1712 1068H1723V1071H1712ZM183 1017H194V1020H183ZM1712 1017H1723V1020H1712ZM183 978H194V981H183ZM1712 978H1723V981H1712ZM183 946H194V949H183ZM1712 946H1723V949H1712ZM183 919H194V922H183ZM1712 919H1723V922H1712ZM183 895H194V899H183ZM1712 895H1723V899H1712ZM183 875H194V878H183ZM1712 875H1723V878H1712ZM183 734H194V738H183ZM1712 734H1723V738H1712ZM183 663H194V666H183ZM1712 663H1723V666H1712ZM183 612H194V616H183ZM1712 612H1723V616H1712ZM183 573H194V576H183ZM1712 573H1723V576H1712ZM183 541H194V544H183ZM1712 541H1723V544H1712ZM183 514H194V517H183ZM1712 514H1723V517H1712ZM183 490H194V494H183ZM1712 490H1723V494H1712ZM183 470H194V473H183ZM1712 470H1723V473H1712ZM183 329H194V333H183ZM1712 329H1723V333H1712ZM183 258H194V261H183ZM1712 258H1723V261H1712ZM183 208H194V211H183ZM1712 208H1723V211H1712ZM183 168H194V172H183ZM1712 168H1723V172H1712ZM183 136H194V140H183ZM1712 136H1723V140H1712ZM183 109H194V112H183ZM1712 109H1723V112H1712ZM183 86H194V89H183ZM1712 86H1723V89H1712ZM183 65H194V68H183ZM1712 65H1723V68H1712ZM183 46H186V1264H183ZM1719 46H1723V1264H1719ZM183 46H1723V50H183ZM183 1261H1723V1264H183Z" fill="#4b4b4d" shape-rendering="crispEdges"/>
<polyline points="280.62,1131.67 376.65,924.70 472.68,796.32 568.70,702.71 664.73,628.94 760.75,568.03 856.78,516.15 952.80,470.96 1048.83,430.93 1144.85,394.99 1240.88,362.40 1336.90,332.57 1432.92,305.08 1528.95,279.58 1624.97,255.81 1721.00,233.54" fill="none" stroke="#ec1c24" stroke-width="3.6" stroke-linejoin="round" shape-rendering="crispEdges"/>
<g fill="none" stroke="#ec1c24" stroke-width="3.45" shape-rendering="crispEdges"><circle cx="280.62" cy="1131.67" r="14.25"/><circle cx="376.65" cy="924.70" r="14.25"/><circle cx="472.68" cy="796.32" r="14.25"/><circle cx="568.70" cy="702.71" r="14.25"/><circle cx="664.73" cy="628.94" r="14.25"/><circle cx="760.75" cy="568.03" r="14.25"/><circle cx="856.78" cy="516.15" r="14.25"/><circle cx="952.80" cy="470.96" r="14.25"/><circle cx="1048.83" cy="430.93" r="14.25"/><circle cx="1144.85" cy="394.99" r="14.25"/><circle cx="1240.88" cy="362.40" r="14.25"/><circle cx="1336.90" cy="332.57" r="14.25"/><circle cx="1432.92" cy="305.08" r="14.25"/><circle cx="1528.95" cy="279.58" r="14.25"/><circle cx="1624.97" cy="255.81" r="14.25"/><circle cx="1721.00" cy="233.54" r="14.25"/></g>
<polyline points="280.62,1248.48 376.65,1243.96 472.68,1241.37 568.70,1239.56 664.73,1238.16 760.75,1237.03 856.78,1236.08 952.80,1235.26 1048.83,1234.54 1144.85,1233.90 1240.88,1233.32 1336.90,1232.79 1432.92,1232.31 1528.95,1231.86 1624.97,1231.45 1721.00,1231.06" fill="none" stroke="#2a4fa6" stroke-width="3.6" stroke-linejoin="round" shape-rendering="crispEdges"/>
<g fill="none" stroke="#2a4fa6" stroke-width="3.45" shape-rendering="crispEdges"><circle cx="280.62" cy="1248.48" r="14.25"/><circle cx="376.65" cy="1243.96" r="14.25"/><circle cx="472.68" cy="1241.37" r="14.25"/><circle cx="568.70" cy="1239.56" r="14.25"/><circle cx="664.73" cy="1238.16" r="14.25"/><circle cx="760.75" cy="1237.03" r="14.25"/><circle cx="856.78" cy="1236.08" r="14.25"/><circle cx="952.80" cy="1235.26" r="14.25"/><circle cx="1048.83" cy="1234.54" r="14.25"/><circle cx="1144.85" cy="1233.90" r="14.25"/><circle cx="1240.88" cy="1233.32" r="14.25"/><circle cx="1336.90" cy="1232.79" r="14.25"/><circle cx="1432.92" cy="1232.31" r="14.25"/><circle cx="1528.95" cy="1231.86" r="14.25"/><circle cx="1624.97" cy="1231.45" r="14.25"/><circle cx="1721.00" cy="1231.06" r="14.25"/></g>
<g font-size="47.5" fill="#4b4b4d" stroke="#4b4b4d" stroke-width="0.8" text-anchor="middle">
<text x="182.90" y="1330.3">0</text>
<text x="374.95" y="1330.3">2</text>
<text x="567.00" y="1330.3">4</text>
<text x="759.05" y="1330.3">6</text>
<text x="951.10" y="1330.3">8</text>
<text x="1143.15" y="1330.3">10</text>
<text x="1335.20" y="1330.3">12</text>
<text x="1527.25" y="1330.3">14</text>
<text x="1719.30" y="1330.3">16</text>
</g>
<g fill="#4b4b4d" stroke="#4b4b4d" stroke-width="0.8">
<text x="91.8" y="1287.30" font-size="47.5">10</text><text x="146.0" y="1266.30" font-size="37.6">5</text>
<text x="91.8" y="882.50" font-size="47.5">10</text><text x="146.0" y="861.50" font-size="37.6">6</text>
<text x="91.8" y="477.70" font-size="47.5">10</text><text x="146.0" y="456.70" font-size="37.6">7</text>
<text x="91.8" y="72.90" font-size="47.5">10</text><text x="146.0" y="51.90" font-size="37.6">8</text>
</g>
<g font-size="52" fill="#4b4b4d" stroke="#4b4b4d" stroke-width="0.8" text-anchor="middle">
<text x="952.7" y="1398.3">Number of subbands(N)</text>
<text transform="translate(61.6 657.0) rotate(-90)">Number of multiplications</text>
</g>
<path d="M1273 85H1684V216H1273Z" fill="#4b4b4d" shape-rendering="crispEdges"/><path d="M1277 89H1680V213H1277Z" fill="#ffffff" shape-rendering="crispEdges"/>
<path d="M1289 120H1431V124H1289Z" fill="#ec1c24" shape-rendering="crispEdges"/>
<circle cx="1360" cy="122.0" r="14.25" fill="none" stroke="#ec1c24" stroke-width="3.45" shape-rendering="crispEdges"/>
<text x="1441" y="139.3" font-size="42.5" fill="#231f20" stroke="#231f20" stroke-width="0.95">CP-OFDM</text>
<path d="M1289 178H1431V181H1289Z" fill="#2a4fa6" shape-rendering="crispEdges"/>
<circle cx="1360" cy="179.5" r="14.25" fill="none" stroke="#2a4fa6" stroke-width="3.45" shape-rendering="crispEdges"/>
<text x="1441" y="196.8" font-size="42.5" fill="#231f20" stroke="#231f20" stroke-width="0.95">GFB-OFDM</text>
</svg>
</body></html>
